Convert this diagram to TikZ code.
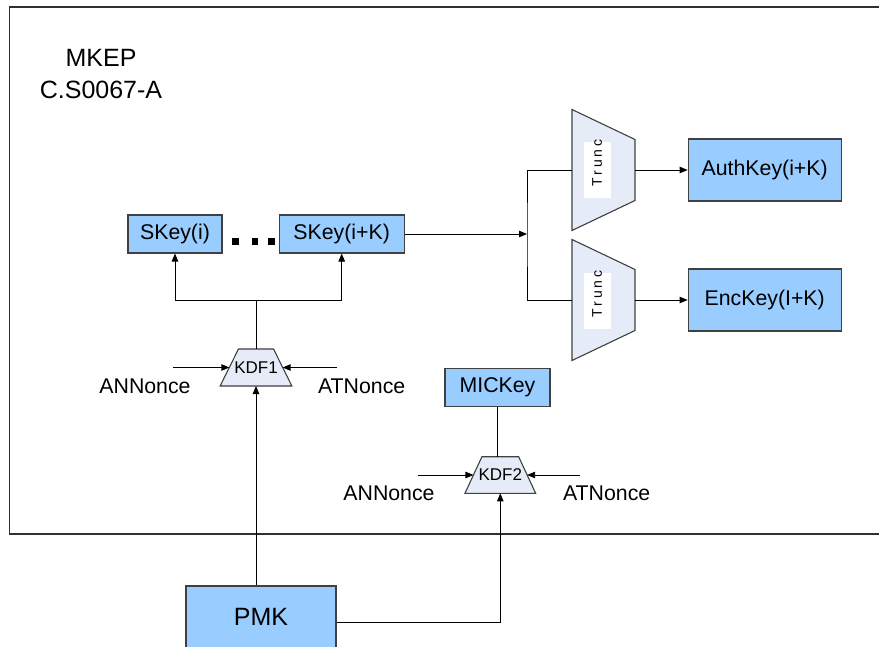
\documentclass[tikz,border=0pt]{standalone}
\usepackage{fontspec}
\setmainfont{Liberation Sans}
\usetikzlibrary{arrows.meta,calc,backgrounds}
\definecolor{keyblue}{HTML}{99CCFF}
\definecolor{trapfill}{HTML}{E6ECF7}
\definecolor{boxline}{HTML}{404040}
\definecolor{framec}{HTML}{303030}
\begin{document}
\begin{tikzpicture}[x=1pt,y=-1pt,
  keybox/.style={draw=boxline, fill=keyblue, line width=1.1pt, inner sep=0pt, font=\fontsize{21.3}{25}\selectfont},
  ghost/.style={inner sep=0pt, outer sep=0pt},
  trap/.style={draw=boxline, fill=trapfill, line width=1.1pt, line join=miter},
  conn/.style={draw=black, line width=0.9pt},
  arr/.style={conn, -{Triangle[length=8pt,width=6.5pt]}},
  lbl/.style={font=\fontsize{21.3}{25}\selectfont, inner sep=0pt},
  kdftext/.style={ghost, font=\fontsize{17}{20}\selectfont},
  truncbox/.style={fill=white, inner sep=0pt, minimum width=27pt, minimum height=56pt},
  trunctext/.style={rotate=90, inner sep=0pt, font=\fontsize{14}{16}\selectfont\addfontfeature{LetterSpace=20}},
]
\useasboundingbox (0,0) rectangle (879,647);
\clip (0,0) rectangle (879,647);

% frame
\draw[draw=framec, line width=1.3pt] (9.5,7) rectangle (900,534);

% title
\node[align=center, inner sep=0pt, font=\fontsize{25}{32}\selectfont] (title) at (101,74) {MKEP\\C.S0067-A};

% key boxes
\node[keybox, minimum width=94pt, minimum height=38pt] (skeyi) at (175,234) {SKey(i)};
\node[keybox, minimum width=125pt, minimum height=38pt] (skeyk) at (341.7,234) {SKey(i+K)};
\node[keybox, minimum width=153pt, minimum height=62pt] (auth) at (764.7,170) {AuthKey(i+K)};
\node[keybox, minimum width=153pt, minimum height=62pt] (enc) at (764.7,300) {EncKey(I+K)};
\node[keybox, minimum width=105pt, minimum height=38.4pt] (mickey) at (497.5,387.5) {MICKey};
\node[keybox, minimum width=150pt, minimum height=62pt, font=\fontsize{25}{30}\selectfont] (pmk) at (261,617) {PMK};

% dots
\fill (232,238.3) rectangle ++(6.7,6.7);
\fill (251.7,238.3) rectangle ++(6.7,6.7);
\fill (268.3,238.3) rectangle ++(6.7,6.7);

% trunc trapezoids
\node[ghost, minimum width=63pt, minimum height=121pt] (tr1) at (603.5,170) {};
\node[ghost, minimum width=63pt, minimum height=121pt] (tr2) at (603.5,300) {};
\begin{scope}[on background layer]
  \draw[trap] (tr1.north west) -- ($(tr1.north east)+(0,30)$) -- ($(tr1.south east)+(0,-30)$) -- (tr1.south west) -- cycle;
  \draw[trap] (tr2.north west) -- ($(tr2.north east)+(0,30)$) -- ($(tr2.south east)+(0,-30)$) -- (tr2.south west) -- cycle;
\end{scope}
\node[truncbox] (w1) at (597.5,170.5) {};
\node[truncbox] (w2) at (597.5,301) {};
\node[trunctext] (t1) at (597,163) {Trunc};
\node[trunctext] (t2) at (597,294) {Trunc};

% KDF trapezoids
\node[kdftext, minimum width=71.7pt, minimum height=37pt] (kdf1) at (256,367.5) {KDF1};
\node[kdftext, minimum width=70.7pt, minimum height=36.6pt] (kdf2) at (500.3,475) {KDF2};
\begin{scope}[on background layer]
  \draw[trap] (kdf1.south west) -- ($(kdf1.north west)+(18.3,0)$) -- ($(kdf1.north east)+(-18.3,0)$) -- (kdf1.south east) -- cycle;
  \draw[trap] (kdf2.south west) -- ($(kdf2.north west)+(17,0)$) -- ($(kdf2.north east)+(-17,0)$) -- (kdf2.south east) -- cycle;
\end{scope}
\coordinate (k1l) at ($(kdf1.west)+(9.2,0)$);
\coordinate (k1r) at ($(kdf1.east)+(-9.2,0)$);
\coordinate (k2l) at ($(kdf2.west)+(8.5,0)$);
\coordinate (k2r) at ($(kdf2.east)+(-8.5,0)$);

% nonce inputs
\coordinate (a1) at (173.3,367.5);
\coordinate (b1) at (336.7,367.5);
\coordinate (a2) at (418.3,475);
\coordinate (b2) at (580,475);
\draw[arr] (a1) -- (k1l);
\draw[arr] (b1) -- (k1r);
\draw[arr] (a2) -- (k2l);
\draw[arr] (b2) -- (k2r);
\node[lbl] (an1) at (145,386.5) {ANNonce};
\node[lbl] (at1) at (361.7,386.5) {ATNonce};
\node[lbl] (an2) at (389,493.3) {ANNonce};
\node[lbl] (at2) at (606.7,493.3) {ATNonce};

% KDF1 to SKeys
\coordinate (k1j) at (256,300);
\draw[conn] (kdf1.north) -- (k1j);
\draw[arr] (k1j) -| (skeyi.south);
\draw[arr] (k1j) -| (skeyk.south);

% SKey(i+K) to truncs
\coordinate (j) at (527,234);
\draw[arr] (skeyk.east) -- (j);
\draw[conn] (tr1.west) -| (j) |- (tr2.west);
\draw[arr] (tr1.east) -- (auth.west);
\draw[arr] (tr2.east) -- (enc.west);

% KDF2 to MICKey
\draw[conn] (mickey.south) -- (mickey.south |- kdf2.north);

% PMK
\draw[arr] (kdf1.south |- pmk.north) -- (kdf1.south);
\draw[arr] ([yshift=-5pt]pmk.east) -| (kdf2.south);
\end{tikzpicture}
\end{document}
